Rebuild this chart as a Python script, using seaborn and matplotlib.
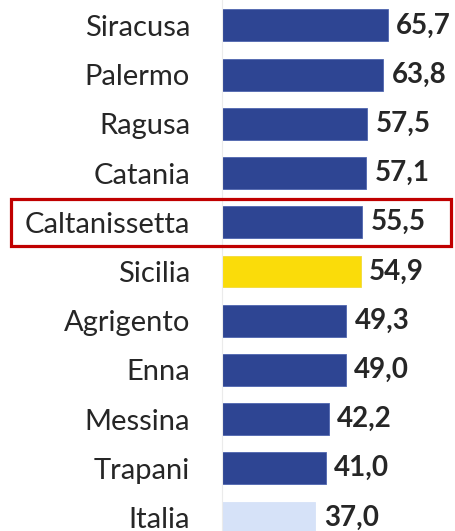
import matplotlib
matplotlib.use("Agg")
import matplotlib.pyplot as plt
import matplotlib.transforms as mtransforms
from matplotlib.patches import Rectangle
import seaborn as sns
import pandas as pd

# Province names and values
provinces = ["Siracusa", "Palermo", "Ragusa", "Catania", "Caltanissetta", "Sicilia",
             "Agrigento", "Enna", "Messina", "Trapani", "Italia"]
values = [65.7, 63.8, 57.5, 57.1, 55.5, 54.9, 49.3, 49.0, 42.2, 41.0, 37.0]
highlight = "Caltanissetta"

DARK_BLUE = "#2E4593"
YELLOW = "#FADC0A"
LIGHT_BLUE = "#D6E2F8"
colors = {p: DARK_BLUE for p in provinces}
colors["Sicilia"] = YELLOW
colors["Italia"] = LIGHT_BLUE
edge_colors = {DARK_BLUE: "#4F66B0", YELLOW: "#F2DA3A", LIGHT_BLUE: "#D6E2F8"}

df = pd.DataFrame({"provincia": provinces, "valore": values})

sns.set_theme(style="white")
plt.rcParams["font.family"] = ["Lato", "DejaVu Sans"]

W, H = 455, 531
fig = plt.figure(figsize=(W / 100, H / 100), dpi=100)
ax = fig.add_axes([222 / W, 0, 1 - 222 / W, 1])

sns.barplot(data=df, x="valore", y="provincia", hue="provincia", palette=colors,
            order=provinces, hue_order=provinces, legend=False, width=0.65,
            saturation=1, linewidth=0.6, ax=ax)

# Thin lighter outline per bar colour
for bars, p in zip(ax.containers, provinces):
    for bar in bars:
        bar.set_edgecolor(edge_colors[colors[p]])

ax.set_xlim(0, (W - 222) / 2.525)
ax.set_ylim(10.274, -0.518)
ax.set_xlabel("")
ax.set_ylabel("")
ax.set_xticks([])
for s in ["top", "right", "bottom"]:
    ax.spines[s].set_visible(False)
ax.spines["left"].set_color("#EBEBEB")
ax.spines["left"].set_linewidth(0.8)

ax.tick_params(axis="y", length=0, pad=23)
for lbl in ax.get_yticklabels():
    lbl.set_fontsize(21)
    lbl.set_color("#262626")

for i, v in enumerate(values):
    ax.annotate(f"{v:.1f}".replace(".", ","), xy=(v, i), xytext=(6, 0),
                textcoords="offset points", ha="left", va="center",
                fontsize=20, fontweight="bold", color="#262626")

# Frame around the highlighted province row
idx = provinces.index(highlight)
trans = mtransforms.blended_transform_factory(fig.transFigure, ax.transData)
rect = Rectangle((11 / W, idx - 0.48), (451 - 11) / W, 0.96, transform=trans,
                 fill=False, edgecolor="#C00000", linewidth=2.3, clip_on=False)
fig.add_artist(rect)

fig.savefig("out.png", dpi=100)
